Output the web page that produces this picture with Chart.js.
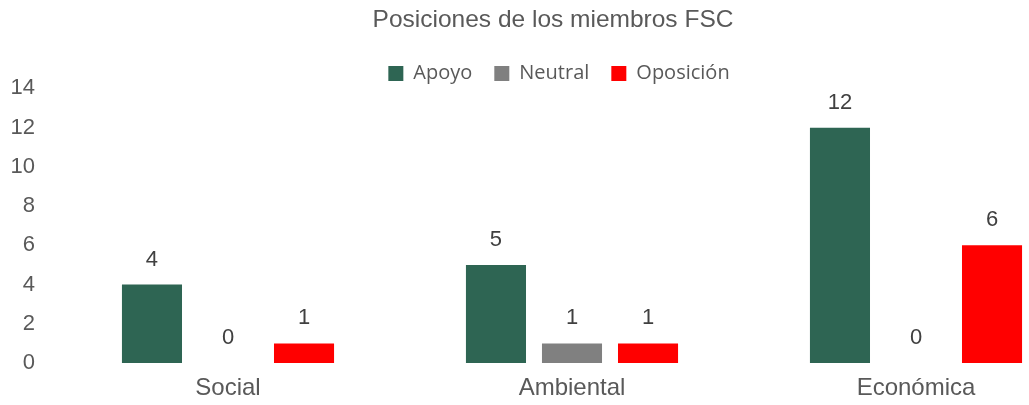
<!DOCTYPE html>
<html>
<head>
<meta charset="utf-8">
<script src="https://cdn.jsdelivr.net/npm/chart.js@4"></script>
<style>
  html, body { margin: 0; padding: 0; background: #fff; overflow: hidden; }
  /* plot area runs past the right edge of the window, like the original */
  #wrap { width: 1120px; height: 405px; }
</style>
</head>
<body>
<div id="wrap"><canvas id="posChart"></canvas></div>
<script>
const categories = ['Social', 'Ambiental', 'Económica'];
const apoyo = [4, 5, 12];
const neutral = [0, 1, 0];
const oposicion = [1, 1, 6];
const yTicks = [0, 2, 4, 6, 8, 10, 12, 14];

const FONT = '"Liberation Sans", Arial, sans-serif';

// values above each bar
const valueLabels = {
  id: 'valueLabels',
  afterDatasetsDraw(chart) {
    const ctx = chart.ctx;
    ctx.save();
    ctx.font = '22px ' + FONT;
    ctx.fillStyle = '#404040';
    ctx.textAlign = 'center';
    ctx.textBaseline = 'middle';
    chart.data.datasets.forEach((ds, i) => {
      chart.getDatasetMeta(i).data.forEach((bar, j) => {
        ctx.fillText(ds.data[j], bar.x, bar.y - 25);
      });
    });
    ctx.restore();
  }
};

// title and legend sit a little right of centre in the original
const nudgeHeader = {
  id: 'nudgeHeader',
  afterLayout(chart) {
    chart.titleBlock.left += 9;
    chart.titleBlock.right += 9;
    chart.legend.left += 15;
    chart.legend.right += 15;
  }
};

const ctx = document.getElementById('posChart').getContext('2d');
new Chart(ctx, {
  type: 'bar',
  data: {
    labels: categories,
    datasets: [
      { label: 'Apoyo', data: apoyo, backgroundColor: '#2E6553', borderWidth: 0 },
      { label: 'Neutral', data: neutral, backgroundColor: '#808080', borderWidth: 0 },
      { label: 'Oposición', data: oposicion, backgroundColor: '#FF0000', borderWidth: 0 }
    ]
  },
  options: {
    responsive: true,
    maintainAspectRatio: false,
    animation: false,
    layout: { padding: { left: 0, right: 32, top: 0, bottom: 0 } },
    datasets: { bar: { categoryPercentage: 0.663, barPercentage: 0.79 } },
    plugins: {
      title: {
        display: true,
        text: 'Posiciones de los miembros FSC',
        color: '#595959',
        font: { family: FONT, size: 24.5, weight: 'normal' },
        padding: { top: 6, bottom: 6 }
      },
      legend: {
        position: 'top',
        maxHeight: 47,
        labels: {
          color: '#595959',
          boxWidth: 15,
          boxHeight: 15,
          padding: 22,
          font: { family: '"Open Sans", sans-serif', size: 20 }
        }
      },
      tooltip: { enabled: false }
    },
    scales: {
      x: {
        afterFit: (axis) => { axis.height = 42; },
        grid: { display: false, drawTicks: false },
        border: { display: false },
        ticks: {
          color: '#595959',
          padding: 11,
          font: { family: FONT, size: 24 }
        }
      },
      y: {
        min: 0,
        max: 14,
        afterBuildTicks: (axis) => { axis.ticks = yTicks.map(v => ({ value: v })); },
        afterFit: (axis) => { axis.width = 56; },
        grid: { display: false, drawTicks: false },
        border: { display: false },
        ticks: {
          color: '#595959',
          padding: 21,
          font: { family: FONT, size: 22 }
        }
      }
    }
  },
  plugins: [valueLabels, nudgeHeader]
});
</script>
</body>
</html>
